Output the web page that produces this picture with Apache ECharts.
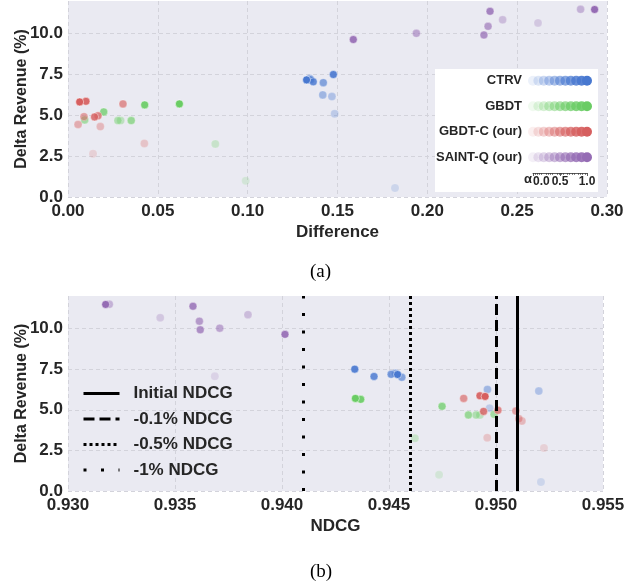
<!DOCTYPE html>
<html>
<head>
<meta charset="utf-8">
<script src="https://cdn.jsdelivr.net/npm/echarts@6/dist/echarts.min.js"></script>
<style>
html, body { margin: 0; padding: 0; background: #fff; }
#chart { width: 626px; height: 583px; }
</style>
</head>
<body>
<div id="chart"></div>
<script>
var models = ['CTRV', 'GBDT', 'GBDT-C (our)', 'SAINT-Q (our)']
var colors = ['#4878D0', '#6ACC64', '#D65F5F', '#956CB4']

// one entry per alpha setting: alpha, difference, ndcg, delta revenue (%)
var ctrvAlpha = [0.1, 0.2, 0.3, 0.4, 0.5, 0.6, 0.7, 0.8, 0.9, 1.0]
var ctrvDiff = [0.182, 0.1484, 0.1469, 0.1418, 0.1345, 0.1421, 0.1351, 0.1365, 0.1477, 0.1328]
var ctrvNdcg = [0.9521, 0.9497, 0.9520, 0.9496, 0.9453, 0.9456, 0.9451, 0.9443, 0.9434, 0.9454]
var ctrvRev = [0.55, 5.1, 6.15, 6.25, 7.25, 7.0, 7.18, 7.05, 7.5, 7.17]

var gbdtAlpha = [0.1, 0.2, 0.3, 0.4, 0.5, 0.6, 0.7, 0.9, 1.0]
var gbdtDiff = [0.0989, 0.0820, 0.0293, 0.0278, 0.0093, 0.0352, 0.0199, 0.0427, 0.0620]
var gbdtNdcg = [0.94734, 0.94621, 0.94925, 0.94907, 0.94991, 0.94871, 0.94748, 0.94368, 0.94343]
var gbdtRev = [1.0, 3.25, 4.68, 4.68, 4.72, 4.68, 5.21, 5.64, 5.70]

var gbdtcAlpha = [0.1, 0.2, 0.3, 0.4, 0.5, 0.6, 0.7, 0.8, 0.9, 1.0]
var gbdtcDiff = [0.0139, 0.0425, 0.0180, 0.0056, 0.0089, 0.0306, 0.0167, 0.0148, 0.0100, 0.0065]
var gbdtcNdcg = [0.95224, 0.94959, 0.95121, 0.95107, 0.95093, 0.94849, 0.95009, 0.94942, 0.94925, 0.94949]
var gbdtcRev = [2.65, 3.28, 4.31, 4.44, 4.92, 5.70, 4.97, 4.90, 5.86, 5.82]

var saintAlpha = [0.1, 0.2, 0.3, 0.4, 0.5, 0.6, 0.7, 0.8, 0.9, 1.0]
var saintDiff = [0.25, 0.2616, 0.2419, 0.2853, 0.1939, 0.2338, 0.2315, 0.2349, 0.1588, 0.2931]
var saintNdcg = [0.93686, 0.93431, 0.93841, 0.93193, 0.93709, 0.93614, 0.93618, 0.93584, 0.94014, 0.93176]
var saintRev = [7.06, 10.66, 10.85, 11.49, 10.02, 10.45, 9.92, 11.37, 9.64, 11.48]

var ndcgLineNames = ['Initial NDCG', '-0.1% NDCG', '-0.5% NDCG', '-1% NDCG']
var ndcgLineValues = [0.951, 0.950, 0.946, 0.941]

var diffTicks = [0, 0.05, 0.10, 0.15, 0.20, 0.25, 0.30]
var ndcgTicks = [0.930, 0.935, 0.940, 0.945, 0.950, 0.955]
var revTicks = [0, 2.5, 5, 7.5, 10]
var alphaKey = [0, 0.1, 0.2, 0.3, 0.4, 0.5, 0.6, 0.7, 0.8, 0.9, 1.0]
var alphaTicks = [0, 0.5, 1.0]

var groups = [
    {alpha: ctrvAlpha, diff: ctrvDiff, ndcg: ctrvNdcg, rev: ctrvRev},
    {alpha: gbdtAlpha, diff: gbdtDiff, ndcg: gbdtNdcg, rev: gbdtRev},
    {alpha: gbdtcAlpha, diff: gbdtcDiff, ndcg: gbdtcNdcg, rev: gbdtcRev},
    {alpha: saintAlpha, diff: saintDiff, ndcg: saintNdcg, rev: saintRev},
]
var lineTypes = ['solid', [11, 5], [3, 3], [3, 14.5]]

var font = 'Liberation Sans'
var textColor = '#262626'
var gridLine = {show: true, lineStyle: {color: '#d3d3db', type: [4, 3], width: 1}}

function opacity(a) {
    return 0.1 + 0.9 * a
}

function pointSeries(i, key, axisIndex) {
    var g = groups[i]
    var data = []
    for (var j = 0; j < g.alpha.length; j++) {
        data.push({value: [g[key][j], g.rev[j]], itemStyle: {opacity: opacity(g.alpha[j])}})
    }
    return {
        type: 'scatter',
        xAxisIndex: axisIndex,
        yAxisIndex: axisIndex,
        symbolSize: 8,
        itemStyle: {color: colors[i], borderColor: '#fff', borderWidth: 0.5},
        data: data,
        z: 2,
    }
}

function keySeries(i) {
    return {
        type: 'scatter',
        xAxisIndex: 2,
        yAxisIndex: 2,
        symbolSize: 10,
        itemStyle: {color: colors[i]},
        data: alphaKey.map(function (a) {
            return {value: [a, models[i]], itemStyle: {opacity: opacity(a)}}
        }),
        z: 10,
    }
}

function revAxis(gridIndex) {
    return {
        type: 'value',
        gridIndex: gridIndex,
        min: 0,
        max: 12,
        name: 'Delta Revenue (%)',
        nameLocation: 'middle',
        nameGap: 38,
        nameMoveOverlap: false,
        nameTextStyle: {fontFamily: font, fontWeight: 'bold', fontSize: 16, color: textColor},
        axisLine: {show: false},
        axisTick: {show: false, customValues: revTicks},
        axisLabel: {
            customValues: revTicks, margin: 5,
            fontFamily: font, fontWeight: 'bold', fontSize: 17, color: textColor,
            formatter: function (v) { return v.toFixed(1) }
        },
        splitLine: gridLine,
    }
}

var series = []
for (var i = 0; i < 4; i++) series.push(pointSeries(i, 'diff', 0))
for (var i = 0; i < 4; i++) series.push(pointSeries(i, 'ndcg', 1))
for (var i = 0; i < 4; i++) {
    series.push({
        type: 'line',
        name: ndcgLineNames[i],
        xAxisIndex: 1,
        yAxisIndex: 1,
        data: [],
        symbol: 'none',
        itemStyle: {color: '#000'},
        lineStyle: {color: '#000', width: 3, type: lineTypes[i]},
        markLine: {
            silent: true,
            precision: 5,
            symbol: ['none', 'none'],
            label: {show: false},
            lineStyle: {color: '#000', width: 3, type: lineTypes[i]},
            data: [{xAxis: ndcgLineValues[i]}],
        },
    })
}
for (var i = 0; i < 4; i++) series.push(keySeries(i))

var option = {
    animation: false,
    backgroundColor: '#fff',
    title: [
        {text: '(a)', left: 305, top: 258, textStyle: {fontFamily: 'Liberation Serif', fontWeight: 'normal', fontSize: 19, color: '#000'}},
        {text: '(b)', left: 305, top: 558, textStyle: {fontFamily: 'Liberation Serif', fontWeight: 'normal', fontSize: 19, color: '#000'}},
    ],
    grid: [
        {left: 68, right: 19, top: 1, height: 196, outerBoundsMode: 'none', show: true, backgroundColor: '#EAEAF2', borderWidth: 0},
        {left: 68, right: 23, top: 296, height: 195, outerBoundsMode: 'none', show: true, backgroundColor: '#EAEAF2', borderWidth: 0},
        {left: 533, width: 54, top: 68, height: 102, outerBoundsMode: 'none'},
    ],
    graphic: [
        {type: 'rect', shape: {x: 435, y: 69, width: 163, height: 123}, style: {fill: '#fff'}, z: 3},
    ],
    legend: {
        data: ndcgLineNames,
        orient: 'vertical',
        left: 82,
        top: 385,
        padding: 0,
        itemWidth: 36,
        itemHeight: 16,
        itemGap: 8.5,
        selectedMode: false,
        itemStyle: {color: 'transparent', borderWidth: 0, opacity: 0},
        lineStyle: {color: '#000', width: 3},
        textStyle: {fontFamily: font, fontWeight: 'bold', fontSize: 17, color: textColor, padding: [0, 0, 0, 9]},
    },
    xAxis: [
        {
            type: 'value', gridIndex: 0, min: 0, max: 0.3,
            name: 'Difference', nameLocation: 'middle', nameGap: 27,
            nameTextStyle: {fontFamily: font, fontWeight: 'bold', fontSize: 17, color: textColor},
            axisLine: {show: false},
            axisTick: {show: false, customValues: diffTicks},
            axisLabel: {
                customValues: diffTicks, margin: 6,
                fontFamily: font, fontWeight: 'bold', fontSize: 17, color: textColor,
                formatter: function (v) { return v.toFixed(2) }
            },
            splitLine: gridLine,
        },
        {
            type: 'value', gridIndex: 1, min: 0.930, max: 0.955,
            name: 'NDCG', nameLocation: 'middle', nameGap: 27,
            nameTextStyle: {fontFamily: font, fontWeight: 'bold', fontSize: 17, color: textColor},
            axisLine: {show: false},
            axisTick: {show: false, customValues: ndcgTicks},
            axisLabel: {
                customValues: ndcgTicks, margin: 6,
                fontFamily: font, fontWeight: 'bold', fontSize: 17, color: textColor,
                formatter: function (v) { return v.toFixed(3) }
            },
            splitLine: gridLine,
        },
        {
            type: 'value', gridIndex: 2, min: 0, max: 1, offset: 3, z: 10,
            name: 'α', nameLocation: 'start', nameGap: 1,
            nameMoveOverlap: false,
            nameTextStyle: {fontFamily: font, fontWeight: 'bold', fontSize: 13, color: textColor, verticalAlign: 'top'},
            axisLine: {show: true, lineStyle: {color: '#333', width: 0.8}},
            axisTick: {show: true, length: 3, customValues: alphaTicks, lineStyle: {color: '#333', width: 0.8}},
            minorTick: {show: true, splitNumber: 5, length: 2, lineStyle: {color: '#333', width: 0.6}},
            axisLabel: {
                customValues: alphaTicks, margin: 3, alignMinLabel: 'left',
                fontFamily: font, fontWeight: 'bold', fontSize: 12, color: textColor,
                formatter: function (v) { return v.toFixed(1) }
            },
            splitLine: {show: false},
        },
    ],
    yAxis: [
        revAxis(0),
        revAxis(1),
        {
            type: 'category', gridIndex: 2, data: models, inverse: true, z: 10,
            axisLine: {show: false},
            axisTick: {show: false},
            axisLabel: {margin: 11, fontFamily: font, fontWeight: 'bold', fontSize: 13, color: textColor},
            splitLine: {show: false},
        },
    ],
    series: series,
}

var myChart = echarts.init(document.getElementById('chart'), null, {renderer: 'canvas'})
myChart.setOption(option)
</script>
</body>
</html>
